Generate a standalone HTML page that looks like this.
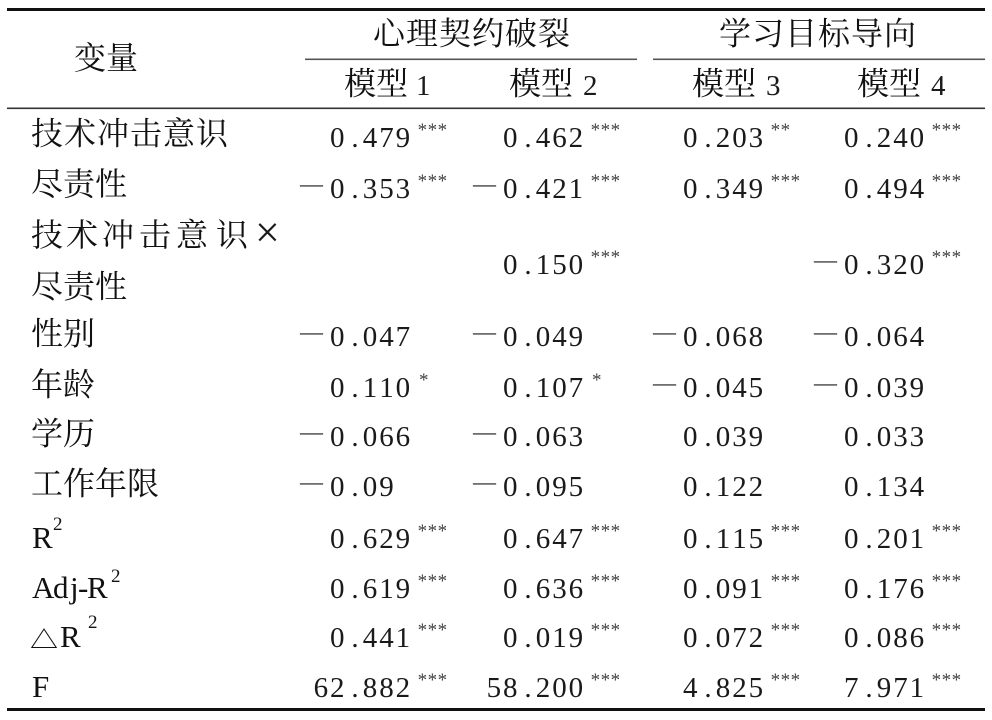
<!DOCTYPE html>
<html>
<head>
<meta charset="utf-8">
<style>
html,body{margin:0;padding:0;background:#fff;}
svg{display:block;}
.c{font-family:"Liberation Serif","Noto Serif CJK SC","Noto Sans CJK SC",serif;font-size:32px;fill:#111;}
.n{font-family:"Liberation Serif",serif;font-size:29px;fill:#1a1a1a;}
.s{font-family:"Liberation Serif",serif;font-size:19px;fill:#444;}
.m{font-family:"Liberation Serif",serif;font-size:23px;fill:#1a1a1a;}
.l{font-family:"Liberation Serif",serif;font-size:31px;fill:#111;}
.sup{font-family:"Liberation Serif",serif;font-size:19px;fill:#111;}
</style>
</head>
<body>
<svg width="992" height="720" viewBox="0 0 992 720" xmlns="http://www.w3.org/2000/svg">
<rect width="992" height="720" fill="#fff"/>
<!-- rules -->
<rect x="7" y="8" width="978" height="3" fill="#111"/>
<rect x="305" y="58.5" width="332" height="1.6" fill="#555"/>
<rect x="653" y="58.5" width="332" height="1.6" fill="#555"/>
<rect x="7" y="107.5" width="978" height="1.6" fill="#333"/>
<rect x="7" y="708" width="978" height="3" fill="#111"/>

<!-- header -->
<text class="c" x="74" y="69">变量</text>
<text class="c" x="373 406 439 472 505 538" y="44.5">心理契约破裂</text>
<text class="c" x="719 752 785 818 851 884" y="44.5">学习目标导向</text>
<text class="c" x="344" y="94.5">模型</text><text class="n" x="416" y="95">1</text>
<text class="c" x="509" y="94.5">模型</text><text class="n" x="583" y="95">2</text>
<text class="c" x="692" y="94.5">模型</text><text class="n" x="766" y="95">3</text>
<text class="c" x="857" y="94.5">模型</text><text class="n" x="931" y="95">4</text>

<!-- row labels -->
<text class="c" x="31 64 97 130 163 196" y="144.5">技术冲击意识</text>
<text class="c" x="31" y="195">尽责性</text>
<text class="c" x="31 66 102 139 176 216" y="246">技术冲击意识</text>
<text class="n" x="255" y="247" style="font-size:44px">×</text>
<text class="c" x="31" y="297.5">尽责性</text>
<text class="c" x="31" y="344.5">性别</text>
<text class="c" x="31" y="395.5">年龄</text>
<text class="c" x="31" y="444.5">学历</text>
<text class="c" x="31" y="494.5">工作年限</text>
<text class="l" x="32" y="548">R</text><text class="sup" x="53" y="530">2</text>
<text class="l" x="32 53 70 78 87" y="598">Adj-R</text><text class="sup" x="111" y="582">2</text>
<text class="c" transform="translate(30,648) scale(0.85,0.72)" x="0" y="0" style="font-size:33px">△</text>
<text class="l" x="60" y="647">R</text><text class="sup" x="88" y="628">2</text>
<text class="l" x="32" y="697">F</text>

<!-- r1 -->
<text class="n" x="330 351.4 362.8 379.2 395.6" y="147">0.479</text><text class="s" x="417.6 427.6 437.6" y="136">***</text>
<text class="n" x="503 524.4 535.8 552.2 568.6" y="147">0.462</text><text class="s" x="590.6 600.6 610.6" y="136">***</text>
<text class="n" x="683 704.4 715.8 732.2 748.6" y="147">0.203</text><text class="s" x="770.6 780.6" y="136">**</text>
<text class="n" x="844 865.4 876.8 893.2 909.6" y="147">0.240</text><text class="s" x="931.6 941.6 951.6" y="136">***</text>

<!-- r2 -->
<text class="m" x="300" y="191.5">—</text><text class="n" x="330 351.4 362.8 379.2 395.6" y="198">0.353</text><text class="s" x="417.6 427.6 437.6" y="187">***</text>
<text class="m" x="473" y="191.5">—</text><text class="n" x="503 524.4 535.8 552.2 568.6" y="198">0.421</text><text class="s" x="590.6 600.6 610.6" y="187">***</text>
<text class="n" x="683 704.4 715.8 732.2 748.6" y="198">0.349</text><text class="s" x="770.6 780.6 790.6" y="187">***</text>
<text class="n" x="844 865.4 876.8 893.2 909.6" y="198">0.494</text><text class="s" x="931.6 941.6 951.6" y="187">***</text>

<!-- r3 -->
<text class="n" x="503 524.4 535.8 552.2 568.6" y="274">0.150</text><text class="s" x="590.6 600.6 610.6" y="263">***</text>
<text class="m" x="814" y="267.5">—</text><text class="n" x="844 865.4 876.8 893.2 909.6" y="274">0.320</text><text class="s" x="931.6 941.6 951.6" y="263">***</text>

<!-- r4 -->
<text class="m" x="300" y="339.5">—</text><text class="n" x="330 351.4 362.8 379.2 395.6" y="346">0.047</text>
<text class="m" x="473" y="339.5">—</text><text class="n" x="503 524.4 535.8 552.2 568.6" y="346">0.049</text>
<text class="m" x="653" y="339.5">—</text><text class="n" x="683 704.4 715.8 732.2 748.6" y="346">0.068</text>
<text class="m" x="814" y="339.5">—</text><text class="n" x="844 865.4 876.8 893.2 909.6" y="346">0.064</text>

<!-- r5 -->
<text class="n" x="330 351.4 362.8 379.2 395.6" y="397">0.110</text><text class="s" x="419" y="386">*</text>
<text class="n" x="503 524.4 535.8 552.2 568.6" y="397">0.107</text><text class="s" x="592" y="386">*</text>
<text class="m" x="653" y="390.5">—</text><text class="n" x="683 704.4 715.8 732.2 748.6" y="397">0.045</text>
<text class="m" x="814" y="390.5">—</text><text class="n" x="844 865.4 876.8 893.2 909.6" y="397">0.039</text>

<!-- r6 -->
<text class="m" x="300" y="439.5">—</text><text class="n" x="330 351.4 362.8 379.2 395.6" y="446">0.066</text>
<text class="m" x="473" y="439.5">—</text><text class="n" x="503 524.4 535.8 552.2 568.6" y="446">0.063</text>
<text class="n" x="683 704.4 715.8 732.2 748.6" y="446">0.039</text>
<text class="n" x="844 865.4 876.8 893.2 909.6" y="446">0.033</text>

<!-- r7 -->
<text class="m" x="300" y="489.5">—</text><text class="n" x="330 351.4 362.8 379.2" y="496">0.09</text>
<text class="m" x="473" y="489.5">—</text><text class="n" x="503 524.4 535.8 552.2 568.6" y="496">0.095</text>
<text class="n" x="683 704.4 715.8 732.2 748.6" y="496">0.122</text>
<text class="n" x="844 865.4 876.8 893.2 909.6" y="496">0.134</text>

<!-- r8 -->
<text class="n" x="330 351.4 362.8 379.2 395.6" y="548">0.629</text><text class="s" x="417.6 427.6 437.6" y="537">***</text>
<text class="n" x="503 524.4 535.8 552.2 568.6" y="548">0.647</text><text class="s" x="590.6 600.6 610.6" y="537">***</text>
<text class="n" x="683 704.4 715.8 732.2 748.6" y="548">0.115</text><text class="s" x="770.6 780.6 790.6" y="537">***</text>
<text class="n" x="844 865.4 876.8 893.2 909.6" y="548">0.201</text><text class="s" x="931.6 941.6 951.6" y="537">***</text>

<!-- r9 -->
<text class="n" x="330 351.4 362.8 379.2 395.6" y="598">0.619</text><text class="s" x="417.6 427.6 437.6" y="587">***</text>
<text class="n" x="503 524.4 535.8 552.2 568.6" y="598">0.636</text><text class="s" x="590.6 600.6 610.6" y="587">***</text>
<text class="n" x="683 704.4 715.8 732.2 748.6" y="598">0.091</text><text class="s" x="770.6 780.6 790.6" y="587">***</text>
<text class="n" x="844 865.4 876.8 893.2 909.6" y="598">0.176</text><text class="s" x="931.6 941.6 951.6" y="587">***</text>

<!-- r10 -->
<text class="n" x="330 351.4 362.8 379.2 395.6" y="647">0.441</text><text class="s" x="417.6 427.6 437.6" y="636">***</text>
<text class="n" x="503 524.4 535.8 552.2 568.6" y="647">0.019</text><text class="s" x="590.6 600.6 610.6" y="636">***</text>
<text class="n" x="683 704.4 715.8 732.2 748.6" y="647">0.072</text><text class="s" x="770.6 780.6 790.6" y="636">***</text>
<text class="n" x="844 865.4 876.8 893.2 909.6" y="647">0.086</text><text class="s" x="931.6 941.6 951.6" y="636">***</text>

<!-- r11 -->
<text class="n" x="313.6 330 351.4 362.8 379.2 395.6" y="697">62.882</text><text class="s" x="417.6 427.6 437.6" y="686">***</text>
<text class="n" x="486.6 503 524.4 535.8 552.2 568.6" y="697">58.200</text><text class="s" x="590.6 600.6 610.6" y="686">***</text>
<text class="n" x="683 704.4 715.8 732.2 748.6" y="697">4.825</text><text class="s" x="770.6 780.6 790.6" y="686">***</text>
<text class="n" x="844 865.4 876.8 893.2 909.6" y="697">7.971</text><text class="s" x="931.6 941.6 951.6" y="686">***</text>
</svg>
</body>
</html>
